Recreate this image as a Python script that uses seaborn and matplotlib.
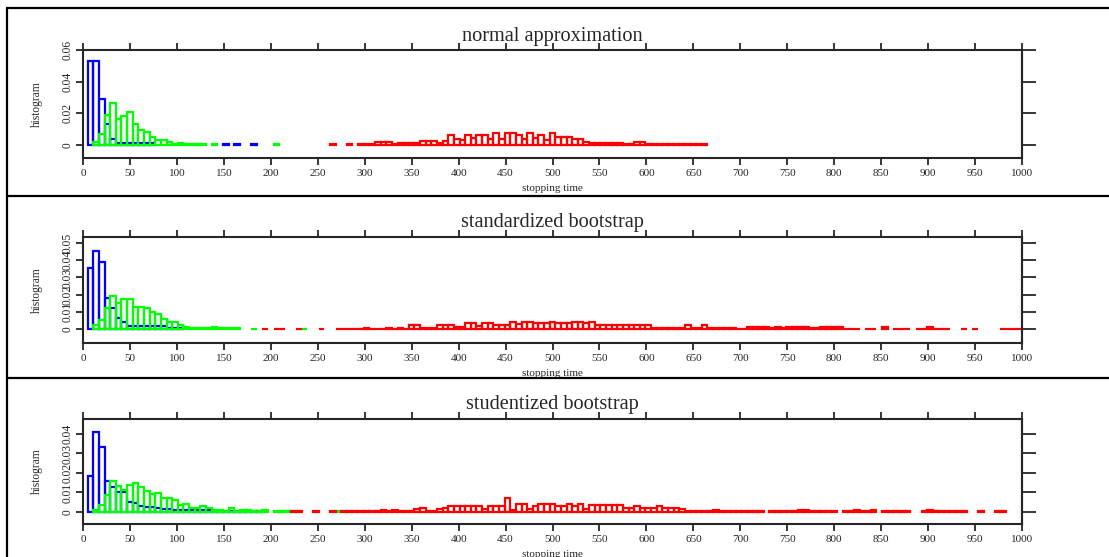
import numpy as np
import pandas as pd
import matplotlib
matplotlib.use("Agg")
import matplotlib.pyplot as plt
import seaborn as sns
from matplotlib.lines import Line2D

# ---------------- data (bin heights on a common 6-unit grid starting at 5) -------------
BIN_START = 5
BIN_WIDTH = 6

titles = ["normal approximation", "standardized bootstrap", "studentized bootstrap"]
xlabel = "stopping time"
ylabel = "histogram"
xticks = list(range(0, 1001, 50))
yticks_1 = [0, 0.02, 0.04, 0.06]
yticks_2 = [0, 0.01, 0.02, 0.03, 0.04, 0.05]
yticks_3 = [0, 0.01, 0.02, 0.03, 0.04]
ylims = [(-0.0083, 0.060), (-0.0081, 0.0535), (-0.0062, 0.0477)]

# panel 1 : normal approximation
blue1_first = 0
blue1 = [0.053, 0.053, 0.0287, 0.0132, 0.0036, 0.0013, 0.0012, 0.0012, 0.0011, 0.0010,
         0.0010, 0.0010, 0, 0, 0, 0, 0, 0, 0, 0, 0, 0, 0, 0, 0.0003, 0, 0.0003, 0, 0, 0.0003]
green1_first = 0
green1 = [0, 0.002, 0.007, 0.019, 0.0266, 0.0166, 0.0185, 0.0206, 0.0132, 0.0096,
          0.0081, 0.0047, 0.0028, 0.0028, 0.0019, 0.0006, 0.0013, 0.0006, 0.0003, 0.0003,
          0.0003, 0, 0.0003, 0, 0, 0, 0, 0, 0, 0, 0, 0, 0, 0.0003]
red1_first = 43
red1 = ([0.0003, 0, 0, 0.0003, 0,
         0.0003, 0.0003, 0.0003, 0.0017, 0.0017, 0.0017, 0.0003, 0.0015, 0.0015, 0.0015,
         0.0015, 0.0026, 0.0026, 0.0026, 0.0015, 0.0026, 0.0062, 0.0038, 0.0032, 0.0062,
         0.0043, 0.0062, 0.0062, 0.0038, 0.0075, 0.0038, 0.0075, 0.0075, 0.0062, 0.0038,
         0.0075, 0.0043, 0.0062, 0.0032, 0.0075, 0.0047, 0.0047, 0.0047, 0.0036, 0.0036,
         0.0021, 0.0015, 0.0015, 0.0015, 0.0015, 0.0015, 0.0015, 0.0003, 0.0003, 0.0017,
         0.0017] + [0.0004] * 11)

# panel 2 : standardized bootstrap
blue2_first = 0
blue2 = [0.0357, 0.0456, 0.0392, 0.0183, 0.012, 0.0066, 0.0039, 0.0017, 0.0017, 0.0017,
         0.0017, 0.0017, 0.0017, 0.0017, 0.0004, 0.0004, 0.0004]
green2_first = 0
green2 = [0, 0.0021, 0.0052, 0.012, 0.0195, 0.0153, 0.0174, 0.0174, 0.0129, 0.0129,
          0.012, 0.0097, 0.0087, 0.0056, 0.0042, 0.0042, 0.0023, 0.0012, 0.0004, 0.0004,
          0.0004, 0.0004, 0.0012, 0.0004, 0.0004, 0.0004, 0.0004, 0, 0, 0.0003,
          0, 0, 0, 0, 0, 0, 0, 0, 0.0003]
red2_first = 31
red2 = ([0.0003, 0, 0.0003, 0.0003, 0, 0, 0.0003, 0, 0, 0, 0.0003, 0, 0,
         0.0003, 0.0003, 0.0003, 0.0003, 0.0003, 0.0008, 0.0003, 0.0003, 0.0003, 0.0008,
         0.0003, 0.0008, 0.0003, 0.0023, 0.0023, 0.0008, 0.0008, 0.0008, 0.0023, 0.0023,
         0.0023, 0.0013, 0.0013, 0.0033, 0.0033, 0.002, 0.0033, 0.0033, 0.0023, 0.0023,
         0.0023, 0.0043, 0.0027, 0.0043, 0.0043, 0.0033, 0.0033, 0.0033, 0.0043, 0.0033,
         0.0033, 0.0033, 0.0043, 0.0043, 0.0033, 0.0043]
        + [0.0023] * 10 + [0.0008] * 6 + [0.0023, 0.0008, 0.0008, 0.0023]
        + [0.0008] * 5 + [0.0002, 0.0002, 0.0012, 0.0012, 0.0012, 0.0012, 0.0004, 0.0012,
                          0.0004, 0.0012, 0.0012, 0.0012, 0.0012, 0.0004, 0.0004, 0.0012,
                          0.0012, 0.0012, 0.0012, 0.0003, 0.0003, 0.0003, 0, 0.0003, 0.0003,
                          0, 0.0012, 0, 0.0003, 0.0003, 0.0003, 0, 0.0003, 0.0003, 0.0012,
                          0.0003, 0.0003, 0.0003, 0, 0, 0.0003, 0, 0.0003, 0, 0, 0, 0,
                          0.0003, 0.0003, 0.0003, 0.0003])

# panel 3 : studentized bootstrap
blue3_first = 0
blue3 = [0.0186, 0.041, 0.0333, 0.0159, 0.0129, 0.010, 0.010, 0.0052, 0.0047, 0.0031,
         0.0024, 0.0024, 0.0021, 0.0017, 0.0014, 0.0009, 0.0009, 0.0009, 0.0009, 0.0009,
         0.0009, 0.0009, 0.0004, 0.0004, 0.0004, 0.0004, 0.0004, 0.0004, 0.0004, 0.0004,
         0.0004]
green3_first = 0
green3 = [0, 0.001, 0.0038, 0.0086, 0.0159, 0.0134, 0.0114, 0.0138, 0.0147, 0.0129,
          0.0109, 0.009, 0.0098, 0.0069, 0.0069, 0.006, 0.0038, 0.0043, 0.0022, 0.0022,
          0.0029, 0.0021, 0.0012, 0.0012, 0.0005, 0.0021, 0.0005, 0.0009, 0.0009, 0.0004,
          0.0004, 0.001, 0, 0.0003, 0.0003, 0.0003, 0, 0, 0, 0, 0, 0, 0, 0, 0.0003]
red3_first = 36
red3 = ([0.0003, 0.0003, 0, 0, 0.0003, 0, 0, 0.0003, 0]
        + [0.0003] * 7
        + [0.0012, 0.0003, 0.0012, 0.0003, 0.0003, 0.0003, 0.0015, 0.0022, 0.0003, 0.0003,
           0.0015, 0.0022]
        + [0.003] * 6
        + [0.0015, 0.003, 0.003, 0.003, 0.0072, 0.0012, 0.0043, 0.0043, 0.0015, 0.003,
           0.0043, 0.0043, 0.0043, 0.003, 0.003, 0.0043, 0.003, 0.0043, 0.0015]
        + [0.0037] * 6
        + [0.0022, 0.0022, 0.003, 0.0022, 0.0022, 0.0022, 0.003, 0.0022, 0.0022, 0.0022,
           0.0015, 0.0005]
        + [0.0003] * 4
        + [0.0009]
        + [0.0003] * 5
        + [0.0007, 0.0007, 0.0003, 0, 0.0003, 0.0003, 0.0007, 0.0007, 0.0003, 0.0008, 0.0008]
        + [0.0003] * 5
        + [0, 0.0003, 0.0003, 0.0008, 0.0003, 0.0003, 0.0008, 0]
        + [0.0003] * 5
        + [0, 0, 0.0003, 0.0008]
        + [0.0003] * 6
        + [0, 0, 0.0003, 0, 0, 0.0003, 0.0003])

panels = [
    [(blue1_first, blue1, "#0000ff"), (green1_first, green1, "#00ff00"), (red1_first, red1, "#ff0000")],
    [(blue2_first, blue2, "#0000ff"), (green2_first, green2, "#00ff00"), (red2_first, red2, "#ff0000")],
    [(blue3_first, blue3, "#0000ff"), (green3_first, green3, "#00ff00"), (red3_first, red3, "#ff0000")],
]
yticks_all = [yticks_1, yticks_2, yticks_3]

# ---------------- style ----------------
sns.set_style("ticks")
plt.rcParams["font.family"] = ["Liberation Serif", "DejaVu Serif"]
plt.rcParams["axes.linewidth"] = 1.5

W, H = 1109, 557
fig = plt.figure(figsize=(W / 100, H / 100), dpi=100)

# axes boxes in pixels: left, right, top, bottom
boxes = [(83, 1022, 50, 158), (83, 1022, 237, 343), (83, 1022, 419, 524)]


def draw_hist(ax, first, heights, color):
    n = len(heights)
    k = np.arange(first, first + n)
    df = pd.DataFrame({"t": BIN_START + BIN_WIDTH * (k + 0.5),
                       "w": np.asarray(heights, float)})
    edges = [float(BIN_START + BIN_WIDTH * j) for j in range(first, first + n + 1)]
    before = len(ax.patches)
    sns.histplot(data=df, x="t", weights="w", bins=edges,
                 fill=False, element="bars", color=color, linewidth=1.6, ax=ax)
    for p in ax.patches[before:]:
        if p.get_height() <= 0:
            p.set_visible(False)


def fmt(v):
    return "0" if v == 0 else ("%g" % v)


for i, (l, r, t, b) in enumerate(boxes):
    ax = fig.add_axes([l / W, 1 - b / H, (r - l) / W, (b - t) / H])
    for first, heights, color in panels[i]:
        draw_hist(ax, first, heights, color)
    ax.set_xlim(0, 1000)
    ax.set_ylim(*ylims[i])
    ax.set_xticks(xticks)
    ax.set_xticklabels([str(v) for v in xticks])
    yt = yticks_all[i]
    ax.set_yticks(yt)
    ax.set_yticklabels([fmt(v) for v in yt], rotation=90, va="center")
    ax.tick_params(axis="x", top=True, direction="out", length=5, width=1.3,
                   labelsize=8, pad=3.2)
    ax.tick_params(axis="y", left=True, right=False, direction="out", length=5,
                   width=1.3, labelsize=8.3, pad=1.5)
    sec = ax.secondary_yaxis("right")
    sec.set_yticks(yt)
    sec.tick_params(axis="y", direction="out", length=10, width=1.3, labelright=False)
    for s in ax.spines.values():
        s.set_linewidth(1.5)
        s.set_visible(True)
    hpx = b - t
    ax.set_title(titles[i], fontsize=14.6, y=1 + 9.5 / hpx, va="baseline", pad=0)
    ax.set_xlabel(xlabel, fontsize=8, va="top")
    ax.xaxis.set_label_coords(0.5, -26 / hpx)
    ax.set_ylabel(ylabel, fontsize=8.3)
    ax.yaxis.set_label_coords(-40 / (r - l), 0.5)

# panel frames
lw = 1.6
for y in (8, 196, 378):
    fig.add_artist(Line2D([7 / W, 1.0], [1 - y / H, 1 - y / H], transform=fig.transFigure,
                          color="black", lw=lw))
fig.add_artist(Line2D([7 / W, 7 / W], [1 - 8 / H, 0.0], transform=fig.transFigure,
                      color="black", lw=lw))

fig.savefig("out.png", dpi=100)
